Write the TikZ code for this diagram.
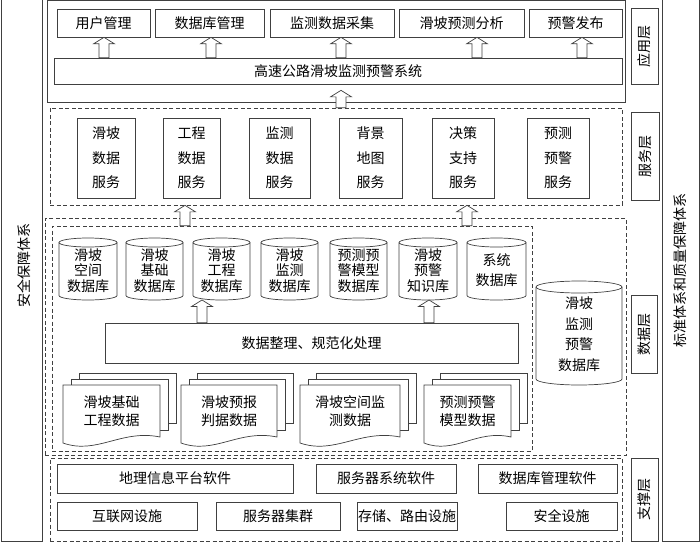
\documentclass[tikz,border=0pt]{standalone}
\usepackage{fontspec}
\setmainfont{Noto Sans CJK SC}
\usetikzlibrary{calc}
\tikzset{
  ln/.style={draw=black!75, line width=0.7pt},
  bx/.style={ln, rectangle, inner sep=0pt, align=center, font=\fontsize{14}{16}\selectfont},
  dsh/.style={dash pattern=on 4pt off 2.5pt},
  barrowsty/.style={ln, fill=white, line join=miter},
  txt/.style={inner sep=0pt, align=center, font=\fontsize{14}{16}\selectfont},
  svcfont/.style={font=\fontsize{14}{24.5}\selectfont},
  cylfont/.style={font=\fontsize{14}{15.5}\selectfont},
}
% box node from corner coordinates
\newcommand{\boxat}[7][]{\node[bx,minimum width={(#5-#3)*1pt},minimum height={(#6-#4)*1pt},#1] (#2) at ({(#3+#5)/2},{(#4+#6)/2}) {#7};}
% cylinder: name, x1, y1, x2, y2, ry, text, font style, text shift
\newcommand{\cylat}[9]{%
  \fill[white] (#2,#3+#6) rectangle (#4,#5-#6);
  \draw[ln] (#2,#3+#6) -- (#2,#5-#6) arc[start angle=180, end angle=0, x radius={(#4-#2)/2}, y radius=#6] -- (#4,#3+#6);
  \draw[ln] ({(#2+#4)/2},#3+#6) ellipse[x radius={(#4-#2)/2}, y radius=#6];
  \node[txt,#8] (#1) at ({(#2+#4)/2},{(#3+#5)/2+#9}) {#7};
  \coordinate (#1-bot) at ({(#2+#4)/2},#5);}
% document stack: name, x1, x2, text
\newcommand{\docat}[4]{%
  \draw[ln,fill=white] (#2+16,373) rectangle (#3+16,423);
  \draw[ln,fill=white] (#2+8,379) rectangle (#3+8,430);
  \draw[ln,fill=white] (#2,385) -- (#3,385) -- (#3,437) .. controls ({#3-0.4*(#3-#2)},429) and ({#2+0.35*(#3-#2)},455) .. (#2,443) -- cycle;
  \node[txt,font=\fontsize{14}{18}\selectfont] (#1) at ({(#2+#3)/2},411) {#4};}
% hollow block arrow: x, bottom anchor, top anchor
\newcommand{\blkarrow}[3]{%
  \coordinate (tmpx) at (#1,0);
  \draw[barrowsty] ($(tmpx |- #2)+(-5,0)$) -- ($(tmpx |- #3)+(-5,6.5)$) -- ($(tmpx |- #3)+(-10.5,6.5)$) -- (tmpx |- #3) -- ($(tmpx |- #3)+(10.5,6.5)$) -- ($(tmpx |- #3)+(5,6.5)$) -- ($(tmpx |- #2)+(5,0)$) -- cycle;}
\begin{document}
\begin{tikzpicture}[x=1pt,y=-1pt]
\useasboundingbox (0,0) rectangle (700,543);
% side bars
\boxat{lb}{1}{-2}{42}{541}{}
\node[txt,rotate=90] (lbt) at (24,265) {安全保障体系};
\boxat{rb}{662}{-2}{699}{541}{}
\node[txt,rotate=90] (rbt) at (680,270) {标准体系和质量保障体系};
% application layer
\boxat{app}{47}{0.5}{625}{102}{}
\boxat{u1}{57}{9}{150}{37}{用户管理}
\boxat{u2}{155}{9}{264}{37}{数据库管理}
\boxat{u3}{270}{9}{394}{37}{监测数据采集}
\boxat{u4}{399}{9}{524}{37}{滑坡预测分析}
\boxat{u5}{529}{9}{622}{37}{预警发布}
\boxat{sys}{54}{58}{622}{84}{高速公路滑坡监测预警系统}
% service layer
\boxat[dsh]{svc}{50}{108}{622}{205}{}
\boxat[svcfont]{s1}{77}{118}{135}{198}{滑坡\\数据\\服务}
\boxat[svcfont]{s2}{163}{118}{220}{198}{工程\\数据\\服务}
\boxat[svcfont]{s3}{249}{118}{310}{198}{监测\\数据\\服务}
\boxat[svcfont]{s4}{339}{118}{402}{198}{背景\\地图\\服务}
\boxat[svcfont]{s5}{432}{118}{494}{198}{决策\\支持\\服务}
\boxat[svcfont]{s6}{527}{118}{589}{198}{预测\\预警\\服务}
% data layer
\boxat[dsh]{dat}{45}{218}{626}{455}{}
\boxat[dsh]{dati}{52}{226}{532}{451}{}
\cylat{c1}{59}{238}{117}{300}{4.5}{滑坡\\空间\\数据库}{cylfont}{1.5}
\cylat{c2}{126}{238}{183}{300}{4.5}{滑坡\\基础\\数据库}{cylfont}{1.5}
\cylat{c3}{193}{238}{250}{300}{4.5}{滑坡\\工程\\数据库}{cylfont}{1.5}
\cylat{c4}{261}{238}{318}{300}{4.5}{滑坡\\监测\\数据库}{cylfont}{1.5}
\cylat{c5}{330}{238}{387}{300}{4.5}{预测预\\警模型\\数据库}{cylfont}{1.5}
\cylat{c6}{399}{238}{457}{300}{4.5}{滑坡\\预警\\知识库}{cylfont}{1.5}
\cylat{c7}{467}{238}{526}{300}{4.5}{系统\\数据库}{font=\fontsize{14}{20}\selectfont}{1.5}
\cylat{cb}{536}{281}{622}{385}{6}{滑坡\\监测\\预警\\数据库}{font=\fontsize{14}{20.5}\selectfont}{1}
\boxat{proc}{105}{323}{518}{363}{数据整理、规范化处理}
\docat{d1}{63}{160}{滑坡基础\\工程数据}
\docat{d2}{181}{277}{滑坡预报\\判据数据}
\docat{d3}{300}{400}{滑坡空间监\\测数据}
\docat{d4}{424}{511}{预测预警\\模型数据}
% support layer
\boxat[dsh]{sup}{50}{458}{622}{541}{}
\boxat{g1}{57}{464}{293}{493}{地理信息平台软件}
\boxat{g2}{316}{464}{456}{493}{服务器系统软件}
\boxat{g3}{478}{464}{617}{493}{数据库管理软件}
\boxat{h1}{57}{502}{197}{530}{互联网设施}
\boxat{h2}{216}{502}{340}{530}{服务器集群}
\boxat{h3}{357}{502}{457}{530}{存储、路由设施}
\boxat{h4}{506}{502}{617}{530}{安全设施}
% layer labels
\boxat{L1}{631}{8}{658}{84}{}
\node[txt,rotate=90] (L1t) at (L1) {应用层};
\boxat{L2}{631}{112}{659}{200}{}
\node[txt,rotate=90] (L2t) at (L2) {服务层};
\boxat{L3}{631}{295}{657}{373}{}
\node[txt,rotate=90] (L3t) at (L3) {数据层};
\boxat{L4}{631}{458}{658}{541}{}
\node[txt,rotate=90] (L4t) at (L4) {支撑层};
% arrows
\blkarrow{104}{sys.north}{u1.south}
\blkarrow{211}{sys.north}{u2.south}
\blkarrow{341}{sys.north}{u3.south}
\blkarrow{477}{sys.north}{u4.south}
\blkarrow{582}{sys.north}{u5.south}
\coordinate (sysb) at ($(sys.south)+(0,6)$);
\blkarrow{341}{svc.north}{sysb}
\blkarrow{185}{dati.north}{svc.south}
\blkarrow{467}{dati.north}{svc.south}
\blkarrow{202}{proc.north}{c3-bot}
\blkarrow{429}{proc.north}{c6-bot}
\end{tikzpicture}
\end{document}
